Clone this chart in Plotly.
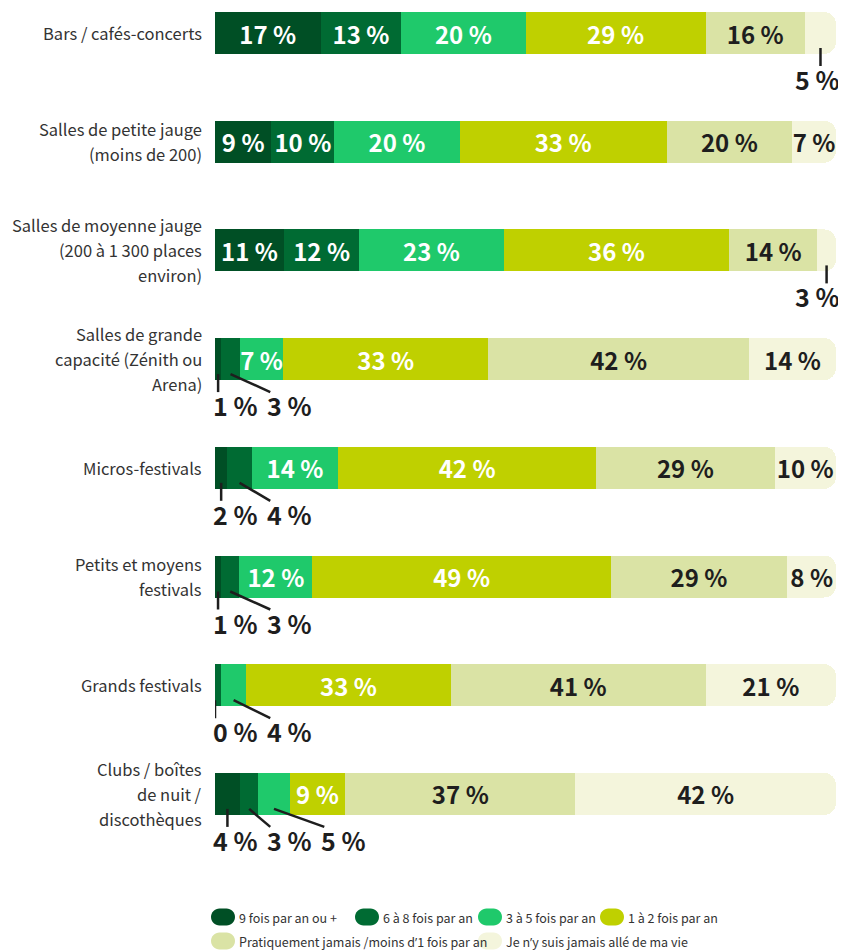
import plotly.graph_objects as go

# ---------------- data ----------------
categories = [
    "Bars / cafés-concerts",
    "Salles de petite jauge<br>(moins de 200)",
    "Salles de moyenne jauge<br>(200 à 1 300 places<br>environ)",
    "Salles de grande<br>capacité (Zénith ou<br>Arena)",
    "Micros-festivals",
    "Petits et moyens<br>festivals",
    "Grands festivals",
    "Clubs / boîtes<br>de nuit /<br>discothèques",
]
series_names = [
    "9 fois par an ou +",
    "6 à 8 fois par an",
    "3 à 5 fois par an",
    "1 à 2 fois par an",
    "Pratiquement jamais /moins d’1 fois par an",
    "Je n’y suis jamais allé de ma vie",
]
v_9_plus = [17, 9, 11, 1, 2, 1, 0, 4]
v_6_8 = [13, 10, 12, 3, 4, 3, 1, 3]
v_3_5 = [20, 20, 23, 7, 14, 12, 4, 5]
v_1_2 = [29, 33, 36, 33, 42, 49, 33, 9]
v_pratiquement = [16, 20, 14, 42, 29, 29, 41, 37]
v_jamais = [5, 7, 3, 14, 10, 8, 21, 42]
unlabeled = [(6, 1)]  # (row, series) segments shown without a label

series_values = [v_9_plus, v_6_8, v_3_5, v_1_2, v_pratiquement, v_jamais]

# ---------------- style ----------------
colors = ["#004F25", "#006B33", "#1FC96B", "#BFD000", "#DAE3A5", "#F4F5DC"]
text_colors = ["#FFFFFF", "#FFFFFF", "#FFFFFF", "#FFFFFF", "#1E1E1E", "#1E1E1E"]
NUM_FONT = "Noto Sans CJK SC, Roboto, sans-serif"
CAT_FONT = "Noto Sans CJK SC, Open Sans, sans-serif"
OFF = 8                      # page body margin of the html page
W, H = 846 - OFF, 951 - OFF
ML, MR, MT = 215 - OFF, 10, 0
PLOT_BOTTOM = 860 - OFF
MB = H - PLOT_BOTTOM
PW, PH = W - ML - MR, H - MT - MB
UNIT = 108.7                 # pixels between two bars
Y_TOP = -(33 - OFF - MT) / UNIT
Y_BOT = Y_TOP + PH / UNIT
BAR_W = 42 / UNIT
INSIDE_MIN = 7


def fmt(v):
    return f"{v:g} %"


fig = go.Figure()
n = len(categories)
ys = list(range(n))
for s, (name, vals) in enumerate(zip(series_names, series_values)):
    txt = [fmt(v) if v >= INSIDE_MIN else "" for v in vals]
    fig.add_trace(go.Bar(
        y=ys, x=vals, name=name, orientation="h", width=BAR_W,
        marker=dict(color=colors[s], line=dict(width=0)),
        text=txt, texttemplate="%{text}", textposition="inside",
        insidetextanchor="middle", textangle=0,
        insidetextfont=dict(family=NUM_FONT, size=24, color=text_colors[s], weight="bold"),
        showlegend=False, hoverinfo="skip",
    ))

# ---------------- outside labels with leader lines ----------------
annotations = []
shapes = []
LINE = dict(color="#1E1E1E", width=2.5)
LAB_FONT = dict(family=NUM_FONT, size=25, color="#1E1E1E", weight="bold")
half = BAR_W / 2
y_line0 = half - 6 / UNIT
y_lab = half + 25 / UNIT
y_line1 = y_lab - 13 / UNIT
for i in range(n):
    row = [series_values[s][i] for s in range(len(series_values))]
    total = sum(row)
    start = 0.0
    k = 0
    for s, v in enumerate(row):
        w = v / total * 100
        c = start + w / 2
        if v < INSIDE_MIN and (i, s) not in unlabeled:
            if start < 50:
                lx = 8.7 * k
                annotations.append(dict(x=lx, y=i + y_lab, xref="x", yref="y", text=fmt(v),
                                        showarrow=False, xanchor="left", yanchor="middle",
                                        xshift=-4, font=LAB_FONT))
                x_end = c if k == 0 else lx + 0.2
                shapes.append(dict(type="line", xref="x", yref="y", x0=c, x1=x_end,
                                   y0=i + y_line0, y1=i + y_line1, line=LINE))
                k += 1
            else:
                annotations.append(dict(x=100, y=i + y_lab, xref="x", yref="y", text=fmt(v),
                                        showarrow=False, xanchor="right", yanchor="middle",
                                        xshift=6, font=LAB_FONT))
                shapes.append(dict(type="line", xref="x", yref="y", x0=c, x1=c,
                                   y0=i + y_line0, y1=i + y_line1, line=LINE))
        start += w

# ---------------- category labels (one annotation per line, 25 px leading) ----------------
for i, cat in enumerate(categories):
    lines = cat.split("<br>")
    m = len(lines)
    for j, ln in enumerate(lines):
        annotations.append(dict(x=0, y=i, xref="paper", yref="y", text=ln, showarrow=False,
                                xanchor="right", yanchor="middle", xshift=-11,
                                yshift=-(j - (m - 1) / 2) * 25,
                                font=dict(family=CAT_FONT, size=16.5, color="#333333")))

# ---------------- legend (manual, pill markers) ----------------
def px_x(px):
    return (px - OFF - ML) / PW


def px_y(py):
    return (PLOT_BOTTOM - (py - OFF)) / PH


legend_pos = [(223, 917), (367, 917), (490, 917), (612, 917), (223, 941), (490, 941)]
kq = 0.5523
r = 8.5
a = 3.5
pill = (f"M {-a},{-r} L {a},{-r} "
        f"C {a + kq * r},{-r} {a + r},{-kq * r} {a + r},0 "
        f"C {a + r},{kq * r} {a + kq * r},{r} {a},{r} "
        f"L {-a},{r} "
        f"C {-a - kq * r},{r} {-a - r},{kq * r} {-a - r},0 "
        f"C {-a - r},{-kq * r} {-a - kq * r},{-r} {-a},{-r} Z")
APOS = '<span style="font-family:Open Sans">’</span>'
for s, (cx, cy) in enumerate(legend_pos):
    shapes.append(dict(type="path", xref="paper", yref="paper", xsizemode="pixel", ysizemode="pixel",
                       xanchor=px_x(cx), yanchor=px_y(cy), path=pill,
                       fillcolor=colors[s], line=dict(width=0)))
    annotations.append(dict(x=px_x(cx + 14), y=px_y(cy), xref="paper", yref="paper",
                            text=series_names[s].replace("’", APOS), showarrow=False,
                            xanchor="left", yanchor="middle",
                            font=dict(family=CAT_FONT, size=12.5, color="#333333")))

fig.update_layout(
    width=W, height=H,
    margin=dict(l=ML, r=MR, t=MT, b=MB, pad=0, autoexpand=False),
    paper_bgcolor="white", plot_bgcolor="white",
    barmode="stack", barnorm="percent", barcornerradius=12,
    uniformtext=dict(minsize=24, mode="show"),
    xaxis=dict(range=[0, 100], visible=False, fixedrange=True, automargin=False),
    yaxis=dict(range=[Y_BOT, Y_TOP], tickmode="array", tickvals=ys, showticklabels=False,
               showgrid=False, zeroline=False, showline=False, automargin=False, ticks=""),
    annotations=annotations, shapes=shapes,
    showlegend=False,
)

fig.write_html("out.html")
